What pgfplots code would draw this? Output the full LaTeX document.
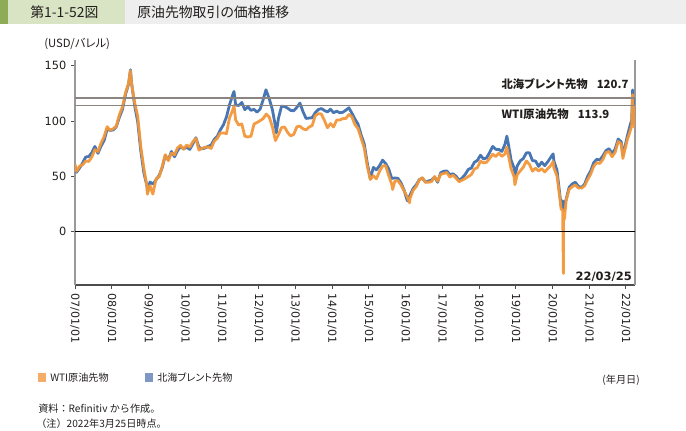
\documentclass[border=0pt]{standalone}
\usepackage{pgfplots}
\pgfplotsset{compat=1.18}
\usepackage{pgfplotstable}
\usepackage{fontspec}
\setmainfont{Noto Sans CJK JP}
\newfontfamily\jp{Noto Sans CJK JP}[RawFeature=+palt]
\newfontfamily\jpw{Noto Sans CJK JP}
\newfontfamily\dv{DejaVu Sans}

\definecolor{wti}{RGB}{243,151,57}
\definecolor{brent}{RGB}{72,118,178}
\definecolor{wtilg}{RGB}{245,172,105}
\definecolor{brentlg}{RGB}{126,151,196}
\definecolor{refl}{RGB}{140,132,128}
\definecolor{hdrdark}{RGB}{142,172,88}
\definecolor{hdrlight}{RGB}{216,228,196}
\definecolor{hdrgray}{RGB}{238,238,238}
\definecolor{txt}{RGB}{35,30,30}

% WTI futures, USD/bbl (monthly, plus some daily extremes)
\pgfplotstableread{
x y
2007.000 61.0
2007.042 54.5
2007.125 59.3
2007.208 60.4
2007.292 63.9
2007.375 63.5
2007.458 67.5
2007.542 74.1
2007.625 72.4
2007.708 79.9
2007.792 85.8
2007.875 94.8
2007.958 91.7
2008.042 93.0
2008.125 95.4
2008.208 105.5
2008.292 112.6
2008.375 125.4
2008.458 133.9
2008.510 145.3
2008.542 133.4
2008.625 116.7
2008.708 104.1
2008.792 76.6
2008.875 57.3
2008.958 41.1
2008.970 33.9
2009.042 41.7
2009.120 34.0
2009.208 47.9
2009.292 49.6
2009.375 59.0
2009.458 69.6
2009.542 64.2
2009.625 71.0
2009.708 69.4
2009.792 75.7
2009.875 78.0
2009.958 74.5
2010.042 78.3
2010.125 76.4
2010.208 81.2
2010.292 84.3
2010.375 73.7
2010.458 75.3
2010.542 76.3
2010.625 76.6
2010.708 75.2
2010.792 81.9
2010.875 84.3
2010.958 89.2
2011.042 89.2
2011.125 88.6
2011.208 102.9
2011.292 109.5
2011.330 113.9
2011.375 100.9
2011.458 96.3
2011.542 97.3
2011.625 86.3
2011.708 85.5
2011.792 86.3
2011.875 97.2
2011.958 98.6
2012.042 100.3
2012.125 102.2
2012.208 106.2
2012.292 103.3
2012.375 94.7
2012.458 82.3
2012.542 87.9
2012.625 94.1
2012.708 94.5
2012.792 89.5
2012.875 86.5
2012.958 87.9
2013.042 94.8
2013.125 95.3
2013.208 92.9
2013.292 92.0
2013.375 94.5
2013.458 95.8
2013.542 104.6
2013.625 106.6
2013.708 106.3
2013.792 100.5
2013.875 93.9
2013.958 97.6
2014.042 94.6
2014.125 100.8
2014.208 100.8
2014.292 102.1
2014.375 102.2
2014.458 105.8
2014.542 103.6
2014.625 96.5
2014.708 93.2
2014.792 84.4
2014.875 75.8
2014.958 59.3
2015.042 47.2
2015.125 50.6
2015.208 47.8
2015.292 54.5
2015.375 59.3
2015.458 59.8
2015.542 50.9
2015.625 42.9
2015.650 38.2
2015.708 45.5
2015.792 46.2
2015.875 42.4
2015.958 37.2
2016.042 31.7
2016.110 26.2
2016.125 30.3
2016.208 37.5
2016.292 40.8
2016.375 46.7
2016.458 48.8
2016.542 44.7
2016.625 44.7
2016.708 45.2
2016.792 49.8
2016.875 45.7
2016.958 52.0
2017.042 52.5
2017.125 53.5
2017.208 49.3
2017.292 51.1
2017.375 48.5
2017.458 45.2
2017.542 46.6
2017.625 48.0
2017.708 49.8
2017.792 51.6
2017.875 56.6
2017.958 57.9
2018.042 63.7
2018.125 62.2
2018.208 62.7
2018.292 66.3
2018.375 70.0
2018.458 67.9
2018.542 71.0
2018.625 68.1
2018.708 70.2
2018.760 76.4
2018.792 70.8
2018.875 57.0
2018.958 49.5
2018.980 42.5
2019.042 51.4
2019.125 55.0
2019.208 58.2
2019.292 63.9
2019.375 60.8
2019.458 54.7
2019.542 57.4
2019.625 54.8
2019.708 57.0
2019.792 54.0
2019.875 57.0
2019.958 59.9
2020.020 63.3
2020.042 57.5
2020.125 50.5
2020.208 29.2
2020.240 20.1
2020.280 19.9
2020.300 -37.6
2020.305 10.0
2020.330 12.3
2020.375 28.5
2020.458 38.3
2020.542 40.7
2020.625 42.3
2020.708 39.6
2020.792 39.4
2020.875 41.4
2020.958 47.0
2021.042 52.0
2021.125 59.0
2021.208 62.3
2021.292 61.7
2021.375 65.2
2021.458 71.4
2021.542 72.5
2021.625 67.7
2021.708 71.6
2021.792 81.5
2021.875 79.2
2021.920 66.2
2021.958 71.7
2022.042 83.2
2022.125 91.6
2022.160 95.7
2022.185 123.7
2022.205 95.0
2022.230 113.9
}\wti

% North Sea Brent futures, USD/bbl
\pgfplotstableread{
x y
2007.000 58.0
2007.042 53.7
2007.125 57.6
2007.208 62.1
2007.292 67.5
2007.375 67.9
2007.458 71.3
2007.542 77.0
2007.625 70.8
2007.708 77.2
2007.792 82.3
2007.875 92.5
2007.958 91.5
2008.042 91.9
2008.125 94.8
2008.208 103.3
2008.292 110.4
2008.375 123.9
2008.458 133.1
2008.510 146.1
2008.542 133.9
2008.625 113.8
2008.708 99.1
2008.792 72.8
2008.875 53.2
2008.958 41.6
2008.975 36.6
2009.042 44.9
2009.125 43.1
2009.208 46.8
2009.292 50.9
2009.375 57.9
2009.458 68.6
2009.542 64.9
2009.625 72.5
2009.708 67.7
2009.792 73.2
2009.875 77.0
2009.958 74.7
2010.042 76.4
2010.125 74.3
2010.208 79.3
2010.292 84.9
2010.375 76.3
2010.458 74.8
2010.542 75.6
2010.625 77.1
2010.708 78.2
2010.792 83.5
2010.875 86.1
2010.958 92.0
2011.042 96.5
2011.125 103.7
2011.208 114.6
2011.292 123.3
2011.330 126.6
2011.375 114.5
2011.458 113.9
2011.542 116.7
2011.625 110.2
2011.708 112.8
2011.792 109.6
2011.875 110.5
2011.958 107.9
2012.042 110.7
2012.125 119.3
2012.200 128.1
2012.292 119.8
2012.375 110.3
2012.458 95.2
2012.480 89.2
2012.542 102.6
2012.625 113.4
2012.708 113.0
2012.792 111.5
2012.875 109.5
2012.958 109.2
2013.042 112.3
2013.125 116.1
2013.208 108.5
2013.292 102.3
2013.375 102.6
2013.458 102.9
2013.542 107.4
2013.625 110.3
2013.708 111.2
2013.792 109.5
2013.875 108.1
2013.958 110.6
2014.042 107.4
2014.125 108.8
2014.208 107.4
2014.292 107.8
2014.375 109.7
2014.458 111.9
2014.542 106.9
2014.625 101.6
2014.708 97.1
2014.792 87.4
2014.875 79.4
2014.958 62.3
2015.042 47.8
2015.125 58.1
2015.208 55.9
2015.292 59.5
2015.375 64.6
2015.458 61.7
2015.542 56.8
2015.625 48.2
2015.708 48.5
2015.792 48.3
2015.875 44.3
2015.958 38.0
2016.050 27.9
2016.125 33.2
2016.208 39.1
2016.292 42.3
2016.375 47.1
2016.458 48.5
2016.542 44.9
2016.625 45.8
2016.708 46.6
2016.792 49.5
2016.875 44.7
2016.958 53.3
2017.042 54.6
2017.125 54.9
2017.208 51.6
2017.292 52.3
2017.375 50.3
2017.458 46.4
2017.542 48.5
2017.625 51.7
2017.708 56.2
2017.792 57.5
2017.875 62.7
2017.958 64.4
2018.042 69.1
2018.125 65.7
2018.208 66.7
2018.292 71.6
2018.375 77.0
2018.458 74.4
2018.542 74.3
2018.625 72.5
2018.708 78.9
2018.760 86.3
2018.792 81.0
2018.875 64.7
2018.958 57.4
2018.980 50.5
2019.042 59.4
2019.125 64.0
2019.208 66.1
2019.292 71.2
2019.375 71.3
2019.458 64.2
2019.542 63.9
2019.625 59.0
2019.708 62.8
2019.792 59.7
2019.875 63.2
2019.958 67.3
2020.020 70.3
2020.042 63.7
2020.125 55.7
2020.208 32.0
2020.240 22.7
2020.280 27.9
2020.300 25.6
2020.305 19.3
2020.330 22.5
2020.375 29.4
2020.458 40.3
2020.542 43.2
2020.625 44.7
2020.708 40.9
2020.792 40.2
2020.875 42.7
2020.958 49.9
2021.042 54.8
2021.125 62.3
2021.208 65.4
2021.292 64.8
2021.375 68.5
2021.458 73.2
2021.542 75.0
2021.625 70.8
2021.708 74.5
2021.792 83.7
2021.875 81.1
2021.920 69.2
2021.958 74.2
2022.042 86.5
2022.125 97.1
2022.160 101.0
2022.185 128.0
2022.205 98.0
2022.230 120.7
}\brent

\begin{document}
\begin{tikzpicture}
\begin{scope}[x=0.75pt,y=-0.75pt]
  \path[use as bounding box] (0,0) rectangle (686,431);
  % header
  \fill[hdrdark] (0,0) rectangle (8,24);
  \fill[hdrlight] (8,0) rectangle (125,24);
  \fill[hdrgray] (125,0) rectangle (686,24);
  \node[anchor=west, inner sep=0, text=txt, font=\jp\fontsize{10.4}{12}\selectfont] at (30,12.5) {第1-1-52図};
  \node[anchor=west, inner sep=0, text=txt, font=\jp\fontsize{10.4}{12}\selectfont] at (137,12.5) {原油先物取引の価格推移};
  % unit label
  \node[anchor=west, inner sep=0, text=txt, font=\jp\fontsize{8.5}{10}\selectfont] at (44,44) {(USD/バレル)};
  % legend
  \fill[wtilg] (38,373) rectangle (46,382);
  \node[anchor=west, inner sep=0, text=txt, font=\jp\fontsize{7.6}{9}\selectfont] at (50,378) {WTI原油先物};
  \fill[brentlg] (145,373) rectangle (153,382);
  \node[anchor=west, inner sep=0, text=txt, font=\jp\fontsize{7.6}{9}\selectfont] at (157,378) {北海ブレント先物};
  \node[anchor=east, inner sep=0, text=txt, font=\jp\fontsize{7.6}{9}\selectfont] at (640,380) {(年月日)};
  % notes
  \node[anchor=west, inner sep=0, text=txt, font=\jpw\fontsize{7.6}{9}\selectfont] at (38,409) {資料：Refinitiv から作成。};
  \node[anchor=west, inner sep=0, text=txt, font=\jpw\fontsize{7.6}{9}\selectfont] at (36,424) {（注）2022年3月25日時点。};
\end{scope}

\begin{axis}[
  at={(56.25pt,-213.75pt)}, anchor=south west,
  scale only axis, width=420pt, height=168.75pt,
  xmin=2007, xmax=2022.25, ymin=-48, ymax=155,
  axis x line*=bottom, axis y line*=box,
  axis line style={-},
  x axis line style={draw=black!70, line width=0.9pt},
  y axis line style={draw=black!40, line width=0.9pt},
  xtick={2007,2008,...,2022},
  xticklabels={07/01/01,08/01/01,09/01/01,10/01/01,11/01/01,12/01/01,13/01/01,14/01/01,15/01/01,16/01/01,17/01/01,18/01/01,19/01/01,20/01/01,21/01/01,22/01/01},
  x tick label style={rotate=-90, anchor=west, font=\dv\fontsize{8.3}{10}\selectfont, text=txt},
  ytick={0,50,100,150}, ytick pos=left, xtick pos=bottom,
  y tick label style={font=\dv\fontsize{8.5}{10}\selectfont, text=txt},
  /pgf/number format/assume math mode=true,
  tick align=outside, major tick length=3pt,
  tick style={black!70, line width=0.6pt},
  clip mode=individual,
]
\addplot[brent, line width=2.1pt, line join=round] table[x=x, y=y] {\brent};
\addplot[wti, opacity=0.95, line width=2.1pt, line join=round] table[x=x, y=y] {\wti};
\addplot[refl, line width=1pt] coordinates {(2007,120.7) (2022.25,120.7)};
\addplot[refl, line width=1pt] coordinates {(2007,113.9) (2022.25,113.9)};
\addplot[black, line width=0.9pt] coordinates {(2007,0) (2022.25,0)};
\node[anchor=west, inner sep=0, text=txt, font=\jp\bfseries\fontsize{8.5}{10}\selectfont] at (axis cs:2018.61,132.8) {北海ブレント先物\hspace{0.8em}120.7};
\node[anchor=west, inner sep=0, text=txt, font=\jp\bfseries\fontsize{8.5}{10}\selectfont] at (axis cs:2018.61,105.7) {WTI原油先物\hspace{0.8em}113.9};
\node[anchor=east, inner sep=0, text=txt, font=\dv\bfseries\fontsize{8.6}{10}\selectfont] at (axis cs:2022.17,-40.7) {22/03/25};
\end{axis}
\end{tikzpicture}
\end{document}
